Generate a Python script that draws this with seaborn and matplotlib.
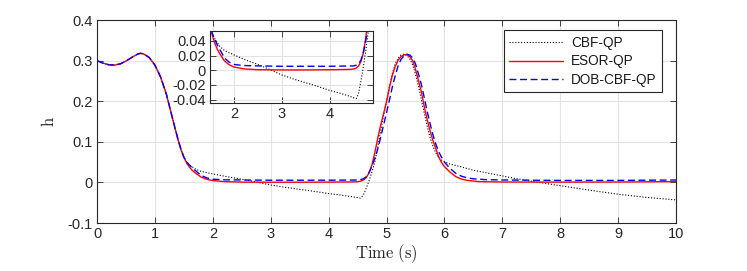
import matplotlib
matplotlib.use("Agg")
import matplotlib.pyplot as plt
import seaborn as sns
import pandas as pd

# ---------------- data ----------------
t_common = [0.0, 0.1, 0.2, 0.3, 0.4, 0.5, 0.6, 0.7, 0.75, 0.8, 0.9, 1.0,
            1.1, 1.2, 1.3, 1.35, 1.4, 1.45, 1.5]
h_common = [0.300, 0.294, 0.290, 0.289, 0.292, 0.299, 0.308, 0.316, 0.318,
            0.317, 0.308, 0.289, 0.259, 0.216, 0.160, 0.132, 0.105, 0.081,
            0.062]

t_cbf = [1.55, 1.6, 1.65, 1.7, 1.75, 1.8, 1.9, 2.0, 2.25, 2.5, 2.75, 3.0,
         3.25, 3.5, 3.75, 4.0, 4.2, 4.4, 4.5, 4.55, 4.6, 4.65, 4.7, 4.75,
         4.8, 4.85, 4.9, 4.95, 5.0, 5.05, 5.1, 5.15, 5.2, 5.25, 5.3, 5.35,
         5.4, 5.45, 5.5, 5.55, 5.6, 5.65, 5.7, 5.75, 5.8, 5.85, 5.9, 5.95,
         6.0, 6.1, 6.25, 6.5, 6.75, 7.0, 7.25, 7.5, 8.0, 8.5, 9.0, 9.5, 10.0]
h_cbf = [0.050, 0.043, 0.038, 0.033, 0.030, 0.027, 0.024, 0.021, 0.014,
         0.008, 0.001, -0.0064, -0.012, -0.017, -0.022, -0.0274, -0.031,
         -0.035, -0.0375, -0.0385, -0.031, -0.014, 0.005, 0.027, 0.052,
         0.088, 0.128, 0.165, 0.200, 0.236, 0.268, 0.292, 0.306, 0.314,
         0.316, 0.313, 0.305, 0.290, 0.267, 0.238, 0.205, 0.172, 0.140,
         0.112, 0.090, 0.073, 0.062, 0.055, 0.051, 0.045, 0.040, 0.030,
         0.023, 0.016, 0.009, 0.003, -0.008, -0.019, -0.029, -0.037, -0.043]

t_esor = [1.55, 1.6, 1.65, 1.7, 1.8, 1.9, 2.0, 2.2, 2.5, 3.0, 3.5, 4.0, 4.4,
          4.5, 4.55, 4.6, 4.65, 4.7, 4.75, 4.8, 4.85, 4.9, 4.95, 5.0, 5.05,
          5.1, 5.15, 5.2, 5.25, 5.3, 5.35, 5.4, 5.45, 5.5, 5.55, 5.6, 5.65,
          5.7, 5.75, 5.8, 5.85, 5.9, 5.95, 6.0, 6.1, 6.2, 6.3, 6.4, 6.6,
          7.0, 8.0, 9.0, 10.0]
h_esor = [0.047, 0.037, 0.029, 0.023, 0.013, 0.0075, 0.0045, 0.002, 0.0008,
          0.0005, 0.0005, 0.0008, 0.0012, 0.0018, 0.003, 0.006, 0.012, 0.024,
          0.044, 0.075, 0.110, 0.142, 0.170, 0.199, 0.234, 0.264, 0.286,
          0.301, 0.310, 0.314, 0.315, 0.310, 0.300, 0.279, 0.252, 0.224,
          0.188, 0.156, 0.128, 0.104, 0.084, 0.063, 0.049, 0.039, 0.025,
          0.014, 0.008, 0.005, 0.002, 0.001, 0.0008, 0.001, 0.002]

t_dob = [1.55, 1.6, 1.65, 1.7, 1.8, 1.9, 2.0, 2.2, 2.5, 3.0, 4.0, 4.5, 4.55,
         4.6, 4.65, 4.7, 4.75, 4.8, 4.85, 4.9, 4.95, 5.0, 5.05, 5.1, 5.15,
         5.2, 5.25, 5.3, 5.35, 5.4, 5.45, 5.5, 5.55, 5.6, 5.65, 5.7, 5.75,
         5.8, 5.85, 5.9, 5.95, 6.0, 6.1, 6.2, 6.3, 6.4, 6.5, 6.7, 7.0, 8.0,
         9.0, 10.0]
h_dob = [0.050, 0.042, 0.035, 0.029, 0.017, 0.011, 0.008, 0.0065, 0.006,
         0.0055, 0.0055, 0.006, 0.007, 0.009, 0.014, 0.025, 0.041, 0.060,
         0.083, 0.112, 0.142, 0.172, 0.203, 0.235, 0.263, 0.287, 0.303,
         0.312, 0.316, 0.314, 0.307, 0.292, 0.268, 0.242, 0.210, 0.176,
         0.146, 0.118, 0.095, 0.076, 0.062, 0.050, 0.034, 0.022, 0.015,
         0.011, 0.009, 0.007, 0.006, 0.005, 0.005, 0.006]

series_names = ["CBF-QP", "ESOR-QP", "DOB-CBF-QP"]

x_ticks = [0, 1, 2, 3, 4, 5, 6, 7, 8, 9, 10]
x_ticklabels = ["0", "1", "2", "3", "4", "5", "6", "7", "8", "9", "10"]
y_ticks = [-0.1, 0, 0.1, 0.2, 0.3, 0.4]
y_ticklabels = ["-0.1", "0", "0.1", "0.2", "0.3", "0.4"]
inset_x_ticks = [2, 3, 4]
inset_x_ticklabels = ["2", "3", "4"]
inset_y_ticks = [-0.04, -0.02, 0, 0.02, 0.04]
inset_y_ticklabels = ["-0.04", "-0.02", "0", "0.02", "0.04"]

# ---------------- build dataframe ----------------
frames = []
for name, tt, hh in [("CBF-QP", t_cbf, h_cbf), ("ESOR-QP", t_esor, h_esor),
                     ("DOB-CBF-QP", t_dob, h_dob)]:
    frames.append(pd.DataFrame({"t": t_common + tt, "h": h_common + hh,
                                "series": name}))
df = pd.concat(frames, ignore_index=True)

# ---------------- style ----------------
sns.set_theme(style="whitegrid")
plt.rcParams["font.family"] = ["Liberation Sans", "DejaVu Sans"]
plt.rcParams["mathtext.fontset"] = "cm"
plt.rcParams["axes.unicode_minus"] = False

styles = {
    "CBF-QP": dict(color="black", linestyle=(0, (1, 1.6)), linewidth=0.8),
    "ESOR-QP": dict(color="#ff0000", linestyle="-", linewidth=1.0),
    "DOB-CBF-QP": dict(color="#0000ff", linestyle=(0, (5, 2.6)), linewidth=1.0),
}

fig = plt.figure(figsize=(7.47, 2.71), dpi=100)
ax = fig.add_axes([0.1299, 0.177, 0.7751, 0.749])


def style_axes(a, fs):
    a.set_facecolor("white")
    a.grid(True, color="#e3e3e3", linewidth=0.8)
    for sp in a.spines.values():
        sp.set_visible(True)
        sp.set_color("#262626")
        sp.set_linewidth(0.8)
    a.tick_params(direction="in", length=4, width=0.6, colors="#262626",
                  labelsize=fs, top=True, right=True, bottom=True, left=True,
                  pad=3)


for name in series_names:
    sub = df[df["series"] == name]
    sns.lineplot(data=sub, x="t", y="h", ax=ax, label=name, sort=False,
                 estimator=None, **styles[name])

ax.set_xlim(0, 10)
ax.set_ylim(-0.1, 0.4)
ax.set_xticks(x_ticks)
ax.set_xticklabels(x_ticklabels)
ax.set_yticks(y_ticks)
ax.set_yticklabels(y_ticklabels)
style_axes(ax, 10.5)
ax.set_xlabel(r"$\mathrm{Time\ (s)}$", fontsize=12, color="#262626", labelpad=1)
ax.set_ylabel(r"$\mathrm{h}$", fontsize=12, color="#262626", labelpad=8)

leg = ax.legend(loc="upper right", bbox_to_anchor=(0.9758, 0.9507),
                fontsize=9.8, frameon=True, fancybox=False, handlelength=3.97,
                borderpad=0.4, labelspacing=0.35, handletextpad=0.55,
                borderaxespad=0.0)
leg.get_frame().set_edgecolor("#262626")
leg.get_frame().set_linewidth(0.8)
leg.get_frame().set_alpha(1)
for txt in leg.get_texts():
    txt.set_color("#1a1a1a")

# ---------------- inset ----------------
axi = fig.add_axes([0.2811, 0.620, 0.2182, 0.266])
for name in series_names:
    sub = df[df["series"] == name]
    sns.lineplot(data=sub, x="t", y="h", ax=axi, sort=False, estimator=None,
                 legend=False, **styles[name])
axi.set_xlim(1.5, 4.9)
axi.set_ylim(-0.0445, 0.0537)
axi.set_xticks(inset_x_ticks)
axi.set_xticklabels(inset_x_ticklabels)
axi.set_yticks(inset_y_ticks)
axi.set_yticklabels(inset_y_ticklabels)
style_axes(axi, 10.5)
axi.set_xlabel("")
axi.set_ylabel("")

fig.savefig("out.png", dpi=100)
